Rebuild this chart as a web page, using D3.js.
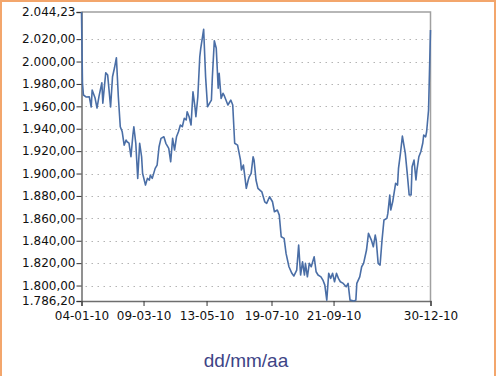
<!DOCTYPE html>
<html>
<head>
<meta charset="utf-8">
<script src="https://cdn.jsdelivr.net/npm/d3@7"></script>
<style>
  body { margin: 0; background: #fff; }
  svg { display: block; }
</style>
</head>
<body>
<script>
var dates = [
  "04-01-10","05-01-10","06-01-10","09-01-10","12-01-10","14-01-10","15-01-10","18-01-10","20-01-10","22-01-10",
  "25-01-10","26-01-10","29-01-10","31-01-10","03-02-10","05-02-10","07-02-10","09-02-10","11-02-10","13-02-10",
  "15-02-10","17-02-10","19-02-10","20-02-10","22-02-10","24-02-10","26-02-10","27-02-10","01-03-10","03-03-10",
  "05-03-10","07-03-10","08-03-10","11-03-10","13-03-10","15-03-10","16-03-10","18-03-10","21-03-10","23-03-10",
  "25-03-10","27-03-10","30-03-10","01-04-10","04-04-10","06-04-10","08-04-10","10-04-10","12-04-10","14-04-10",
  "16-04-10","18-04-10","20-04-10","22-04-10","23-04-10","25-04-10","27-04-10","29-04-10","01-05-10","02-05-10",
  "04-05-10","06-05-10","07-05-10","10-05-10","12-05-10","14-05-10","16-05-10","18-05-10","19-05-10","21-05-10",
  "23-05-10","25-05-10","26-05-10","28-05-10","30-05-10","31-05-10","02-06-10","04-06-10","06-06-10","07-06-10",
  "09-06-10","11-06-10","14-06-10","17-06-10","18-06-10","20-06-10","23-06-10","25-06-10","26-06-10","28-06-10",
  "30-06-10","01-07-10","03-07-10","05-07-10","09-07-10","12-07-10","14-07-10","17-07-10","20-07-10","22-07-10",
  "25-07-10","27-07-10","29-07-10","01-08-10","03-08-10","06-08-10","09-08-10","11-08-10","14-08-10","16-08-10",
  "18-08-10","20-08-10","22-08-10","23-08-10","25-08-10","27-08-10","29-08-10","01-09-10","03-09-10","05-09-10",
  "08-09-10","10-09-10","12-09-10","14-09-10","16-09-10","18-09-10","20-09-10","22-09-10","24-09-10","26-09-10",
  "28-09-10","01-10-10","04-10-10","06-10-10","08-10-10","12-10-10","14-10-10","15-10-10","18-10-10","20-10-10",
  "22-10-10","25-10-10","27-10-10","30-10-10","01-11-10","03-11-10","04-11-10","06-11-10","08-11-10","10-11-10",
  "12-11-10","15-11-10","16-11-10","18-11-10","19-11-10","21-11-10","24-11-10","26-11-10","27-11-10","29-11-10",
  "01-12-10","04-12-10","06-12-10","08-12-10","10-12-10","11-12-10","13-12-10","15-12-10","16-12-10","18-12-10",
  "20-12-10","22-12-10","23-12-10","25-12-10","26-12-10","28-12-10","30-12-10"
];
var values = [
  2044.2,1980.8,1970.1,1968.3,1968.6,1959.4,1974.5,1967.4,1958.5,1968.6,
  1981.1,1962.9,1990.0,1987.9,1959.4,1986.4,1994.2,2003.4,1968.6,1941.8,
  1937.3,1925.4,1929.9,1928.4,1927.2,1915.0,1934.4,1941.8,1927.0,1895.7,
  1927.0,1915.0,1900.2,1889.7,1895.7,1894.2,1898.6,1895.7,1904.6,1907.6,
  1923.9,1931.4,1932.8,1927.0,1922.5,1910.5,1931.4,1921.0,1932.8,1937.3,
  1943.3,1941.8,1949.3,1947.8,1955.2,1950.7,1943.3,1973.0,1959.6,1950.7,
  1968.6,2004.3,2011.8,2028.8,1986.4,1959.6,1962.7,1965.6,1986.4,2018.6,
  2011.8,1976.1,1989.5,1967.1,1971.6,1970.1,1965.6,1961.2,1964.1,1965.6,
  1961.2,1927.0,1925.4,1912.0,1903.1,1907.6,1886.8,1894.2,1897.1,1900.2,
  1915.0,1912.0,1894.2,1886.8,1883.7,1874.8,1873.4,1879.3,1874.8,1865.9,
  1867.4,1862.9,1843.6,1842.1,1828.7,1816.8,1810.9,1808.5,1813.8,1836.1,
  1809.4,1821.2,1809.4,1819.8,1807.8,1819.8,1816.8,1825.7,1812.3,1809.4,
  1807.8,1804.9,1800.4,1787.0,1810.9,1806.4,1810.9,1803.4,1810.9,1806.4,
  1803.4,1801.9,1798.9,1801.9,1787.0,1786.2,1787.0,1801.9,1807.8,1816.8,
  1819.8,1831.7,1846.6,1840.6,1834.6,1845.1,1840.6,1819.8,1818.3,1840.6,
  1858.5,1860.0,1864.4,1880.8,1867.4,1874.8,1891.2,1889.7,1904.6,1918.0,
  1933.5,1918.0,1900.2,1880.8,1880.8,1906.1,1912.0,1894.2,1903.1,1915.0,
  1919.5,1927.0,1934.4,1932.8,1937.3,1956.7,2028.1
];
var yTicks = [1786.20, 1800, 1820, 1840, 1860, 1880, 1900, 1920, 1940, 1960, 1980, 2000, 2020, 2044.23];
var xTicks = ["04-01-10", "09-03-10", "13-05-10", "19-07-10", "21-09-10", "30-12-10"];
var xTitle = "dd/mm/aa";

var W = 501, H = 376;
var margin = { left: 81.5, top: 12, right: 70.5, bottom: 75 };

var parseDate = d3.timeParse("%d-%m-%y");
var fmtDate = d3.timeFormat("%d-%m-%y");
var locale = d3.formatLocale({ decimal: ",", thousands: ".", grouping: [3], currency: ["", ""] });
var fmtNum = locale.format(",.2f");

var data = dates.map(function(d, i) { return { date: parseDate(d), value: values[i] }; });

var svg = d3.select("body").append("svg")
    .attr("width", W)
    .attr("height", H);

// orange frame round the whole chart
svg.append("rect")
    .attr("x", 1).attr("y", 1)
    .attr("width", 494).attr("height", H + 10)
    .attr("fill", "none")
    .attr("stroke", "#f3a66c")
    .attr("stroke-width", 2);

var x = d3.scaleTime()
    .domain([parseDate(xTicks[0]), parseDate(xTicks[xTicks.length - 1])])
    .range([margin.left, W - margin.right]);

var y = d3.scaleLinear()
    .domain([yTicks[0], yTicks[yTicks.length - 1]])
    .range([H - margin.bottom, margin.top]);

// dotted grid
svg.append("g")
    .selectAll("line")
    .data(yTicks.slice(1, -1))
    .enter().append("line")
    .attr("x1", margin.left + 4)
    .attr("x2", W - margin.right - 2)
    .attr("y1", function(d) { return Math.round(y(d)) + 0.5; })
    .attr("y2", function(d) { return Math.round(y(d)) + 0.5; })
    .attr("stroke", "#b4b4b4")
    .attr("stroke-width", 1)
    .attr("stroke-dasharray", "1.5,4.5");

// frame of the plot area (top and right)
svg.append("path")
    .attr("d", "M" + margin.left + "," + margin.top + "H" + (W - margin.right) + "V" + (H - margin.bottom))
    .attr("fill", "none")
    .attr("stroke", "#a0a0a0")
    .attr("stroke-width", 1.5);

var yAxis = svg.append("g")
    .attr("transform", "translate(" + margin.left + ",0)")
    .call(d3.axisLeft(y).tickValues(yTicks).tickFormat(fmtNum).tickSizeOuter(0).tickSize(5));

var xAxis = svg.append("g")
    .attr("transform", "translate(0," + (H - margin.bottom) + ")")
    .call(d3.axisBottom(x).tickValues(xTicks.map(parseDate)).tickFormat(fmtDate).tickSizeOuter(0).tickSize(5));

[yAxis, xAxis].forEach(function(g) {
    g.select(".domain").attr("stroke", "#6e6e6e").attr("stroke-width", 1.5);
    g.selectAll(".tick line").attr("stroke", "#333");
    g.selectAll("text")
        .attr("fill", "#111")
        .style("font-family", "DejaVu Sans, Verdana, sans-serif")
        .style("font-size", "12px");
});
yAxis.selectAll("text").attr("x", -6);
xAxis.selectAll("text").attr("y", 10);

var line = d3.line()
    .x(function(d) { return x(d.date); })
    .y(function(d) { return y(d.value); });

svg.append("path")
    .datum(data)
    .attr("d", line)
    .attr("fill", "none")
    .attr("stroke", "#4a6ea6")
    .attr("stroke-width", 1.6)
    .attr("stroke-linejoin", "round");

svg.append("text")
    .attr("x", 246)
    .attr("y", 367)
    .attr("text-anchor", "middle")
    .attr("fill", "#3d4486")
    .style("font-family", "Liberation Sans, Arial, sans-serif")
    .style("font-size", "19px")
    .text(xTitle);
</script>
</body>
</html>
